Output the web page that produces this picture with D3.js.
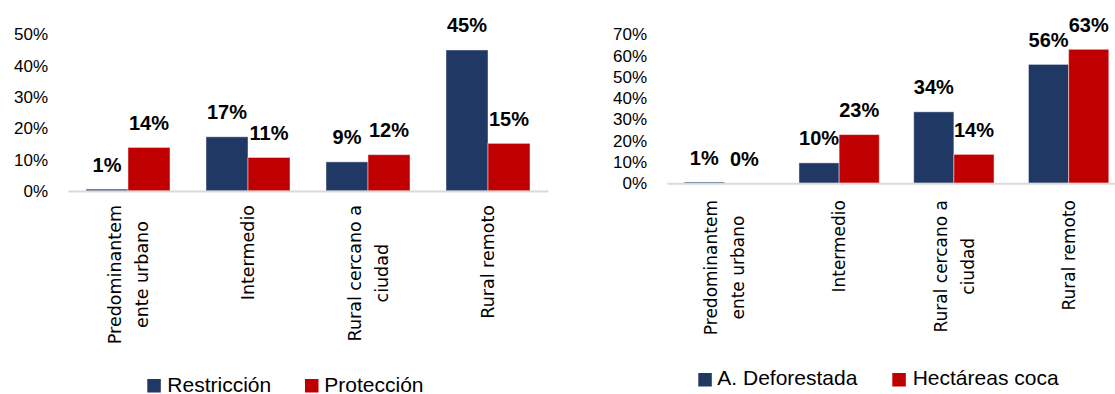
<!DOCTYPE html>
<html>
<head>
<meta charset="utf-8">
<script src="https://cdn.jsdelivr.net/npm/d3@7"></script>
<style>
  html, body { margin: 0; padding: 0; background: #fff; }
  svg { display: block; }
</style>
</head>
<body>
<script>
// ---- data ----
const categories = ["Predominantemente urbano", "Intermedio", "Rural cercano a ciudad", "Rural remoto"];
const categoryLines = [["Predominantem", "ente urbano"], ["Intermedio"], ["Rural cercano a", "ciudad"], ["Rural remoto"]];

const leftSeriesNames = ["Restricción", "Protección"];
const restriccion = [0.6, 17.3, 9.3, 45.0];
const proteccion  = [13.9, 10.7, 11.6, 15.2];
const leftTicks = [0, 10, 20, 30, 40, 50];

const rightSeriesNames = ["A. Deforestada", "Hectáreas coca"];
const deforestada = [0.6, 9.6, 33.6, 55.9];
const coca        = [0.0, 22.9, 13.6, 63.0];
const rightTicks = [0, 10, 20, 30, 40, 50, 60, 70];

const colors = ["#203864", "#C00000"];

// ---- drawing ----
const W = 1115, H = 394;
const SANS = "'Liberation Sans', Arial, sans-serif";
const CAT = "'DejaVu Sans', Verdana, sans-serif";
const svg = d3.select("body").append("svg").attr("width", W).attr("height", H);

function drawChart(cfg) {
  const g = svg.append("g");
  const x0 = d3.scaleBand().domain(categories).range(cfg.xRange).paddingInner(0.3).paddingOuter(0.15);
  const x1 = d3.scaleBand().domain([0, 1]).range([0, x0.bandwidth()]);
  const y = d3.scaleLinear().domain([0, d3.max(cfg.ticks)]).range(cfg.yRange);
  const fmtTick = d => d + "%";
  const fmtLabel = d => Math.round(d) + "%";

  // y axis labels
  const yAxis = g.append("g")
    .attr("transform", `translate(${cfg.xRange[0]},0)`)
    .call(d3.axisLeft(y).tickValues(cfg.ticks).tickFormat(fmtTick).tickSize(0).tickPadding(20));
  yAxis.select(".domain").remove();
  yAxis.selectAll("text").style("font-size", "17px").style("font-family", SANS).style("fill", "#000");

  // bars
  const series = cfg.series;
  const grp = g.selectAll(".grp").data(categories).join("g")
    .attr("transform", d => `translate(${x0(d)},0)`);
  grp.selectAll("rect").data((c, i) => series.map((s, k) => ({k, v: s[i]}))).join("rect")
    .attr("x", d => x1(d.k))
    .attr("width", x1.bandwidth())
    .attr("y", d => y(d.v))
    .attr("height", d => y(0) - y(d.v))
    .attr("fill", d => colors[d.k])
    .attr("stroke", "rgba(255,255,255,0.45)")
    .attr("stroke-width", 1);

  // x axis line
  const xAxis = g.append("g")
    .attr("transform", `translate(0,${y(0)})`)
    .call(d3.axisBottom(x0).tickSize(0).tickSizeOuter(0).tickFormat(""));
  xAxis.select(".domain").attr("stroke", "#d9d9d9").attr("stroke-width", 2);
  xAxis.selectAll(".tick").remove();

  // data labels
  grp.selectAll("text.lbl").data((c, i) => series.map((s, k) => ({k, v: s[i]}))).join("text")
    .attr("class", "lbl")
    .attr("x", d => x1(d.k) + x1.bandwidth() / 2)
    .attr("y", d => y(d.v) - 17.5)
    .attr("text-anchor", "middle")
    .style("font-family", SANS)
    .style("font-size", "20px")
    .style("font-weight", "bold")
    .style("fill", "#000")
    .text(d => fmtLabel(d.v));

  // category labels (rotated)
  const fs = cfg.catFont;
  const lineGap = 27;
  categories.forEach((c, i) => {
    const lines = categoryLines[i];
    const cx = x0(c) + x0.bandwidth() / 2;
    const tg = g.append("g");
    const texts = lines.map((ln, j) => {
      const glyphCenter = cx + (j - (lines.length - 1) / 2) * lineGap;
      return tg.append("text")
        .style("font-family", CAT)
        .style("font-size", fs + "px")
        .style("fill", "#000")
        .attr("text-anchor", "middle")
        .text(ln)
        .datum(glyphCenter);
    });
    const maxLen = d3.max(texts, t => t.node().getComputedTextLength());
    const cy = cfg.catTop + maxLen / 2;
    texts.forEach(t => {
      const gx = t.datum() + 0.365 * fs;
      t.attr("transform", `translate(${gx},${cy}) rotate(-90)`);
    });
  });

  // legend
  cfg.legend.forEach((l, k) => {
    g.append("rect").attr("x", l.sx).attr("y", cfg.legendSqY).attr("width", 13.5).attr("height", 13.5).attr("fill", colors[k]);
    g.append("text").attr("x", l.tx).attr("y", cfg.legendBase)
      .style("font-family", SANS).style("font-size", "21px").style("fill", "#000")
      .text(cfg.names[k]);
  });
}

drawChart({
  series: [restriccion, proteccion],
  names: leftSeriesNames,
  ticks: leftTicks,
  xRange: [68, 548],
  yRange: [191, 34.3],
  catTop: 205,
  catFont: 17.5,
  legendSqY: 379,
  legendBase: 391.5,
  legend: [{sx: 147.3, tx: 167.3}, {sx: 305, tx: 324.3}]
});

drawChart({
  series: [deforestada, coca],
  names: rightSeriesNames,
  ticks: rightTicks,
  xRange: [667, 1126],
  yRange: [183.3, 34.4],
  catTop: 200,
  catFont: 17,
  legendSqY: 373,
  legendBase: 385,
  legend: [{sx: 698.3, tx: 717.3}, {sx: 892.3, tx: 912.7}]
});
</script>
</body>
</html>
